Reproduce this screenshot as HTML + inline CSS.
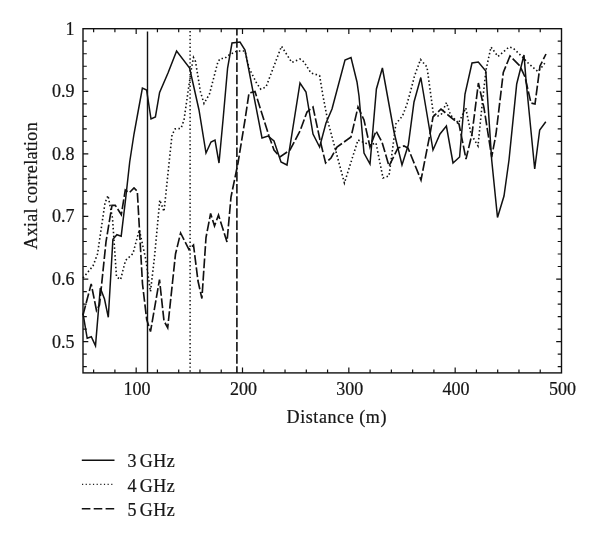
<!DOCTYPE html>
<html lang="en">
<head>
<meta charset="utf-8">
<title>Axial correlation versus distance</title>
<style>
html,body{margin:0;padding:0;background:#fff;}
body{width:600px;height:539px;overflow:hidden;}
svg{display:block;}
text{font-family:"Liberation Serif","DejaVu Serif",serif;font-size:18px;fill:#161616;stroke:#161616;stroke-width:0.22px;}
.t{font-size:18px;}
</style>
</head>
<body>
<svg width="600" height="539" viewBox="0 0 600 539">
<rect x="0" y="0" width="600" height="539" fill="#ffffff"/>
<g fill="none" stroke="#111" stroke-linejoin="miter" stroke-linecap="butt">
<rect x="83.0" y="28.7" width="478.5" height="344.2" stroke-width="1.4"/>
<path d="M93.63 372.90v-3.5M93.63 28.70v3.5M114.90 372.90v-3.5M114.90 28.70v3.5M136.17 372.90v-5.3M136.17 28.70v5.3M157.43 372.90v-3.5M157.43 28.70v3.5M178.70 372.90v-3.5M178.70 28.70v3.5M199.97 372.90v-3.5M199.97 28.70v3.5M221.23 372.90v-3.5M221.23 28.70v3.5M242.50 372.90v-5.3M242.50 28.70v5.3M263.77 372.90v-3.5M263.77 28.70v3.5M285.03 372.90v-3.5M285.03 28.70v3.5M306.30 372.90v-3.5M306.30 28.70v3.5M327.57 372.90v-3.5M327.57 28.70v3.5M348.83 372.90v-5.3M348.83 28.70v5.3M370.10 372.90v-3.5M370.10 28.70v3.5M391.37 372.90v-3.5M391.37 28.70v3.5M412.63 372.90v-3.5M412.63 28.70v3.5M433.90 372.90v-3.5M433.90 28.70v3.5M455.17 372.90v-5.3M455.17 28.70v5.3M476.43 372.90v-3.5M476.43 28.70v3.5M497.70 372.90v-3.5M497.70 28.70v3.5M518.97 372.90v-3.5M518.97 28.70v3.5M540.23 372.90v-3.5M540.23 28.70v3.5M83.00 366.64h3.8M561.50 366.64h-3.8M83.00 354.13h3.8M561.50 354.13h-3.8M83.00 341.61h5.3M561.50 341.61h-5.3M83.00 329.09h3.8M561.50 329.09h-3.8M83.00 316.58h3.8M561.50 316.58h-3.8M83.00 304.06h3.8M561.50 304.06h-3.8M83.00 291.54h3.8M561.50 291.54h-3.8M83.00 279.03h5.3M561.50 279.03h-5.3M83.00 266.51h3.8M561.50 266.51h-3.8M83.00 253.99h3.8M561.50 253.99h-3.8M83.00 241.48h3.8M561.50 241.48h-3.8M83.00 228.96h3.8M561.50 228.96h-3.8M83.00 216.45h5.3M561.50 216.45h-5.3M83.00 203.93h3.8M561.50 203.93h-3.8M83.00 191.41h3.8M561.50 191.41h-3.8M83.00 178.90h3.8M561.50 178.90h-3.8M83.00 166.38h3.8M561.50 166.38h-3.8M83.00 153.86h5.3M561.50 153.86h-5.3M83.00 141.35h3.8M561.50 141.35h-3.8M83.00 128.83h3.8M561.50 128.83h-3.8M83.00 116.31h3.8M561.50 116.31h-3.8M83.00 103.80h3.8M561.50 103.80h-3.8M83.00 91.28h5.3M561.50 91.28h-5.3M83.00 78.77h3.8M561.50 78.77h-3.8M83.00 66.25h3.8M561.50 66.25h-3.8M83.00 53.73h3.8M561.50 53.73h-3.8M83.00 41.22h3.8M561.50 41.22h-3.8" stroke-width="1.2"/>
<line x1="147.5" y1="31.5" x2="147.5" y2="372.9" stroke-width="1.4"/>
<line x1="190.1" y1="31" x2="190.1" y2="372.9" stroke-width="1.45" stroke-dasharray="1.4 2.5"/>
<line x1="236.9" y1="372.9" x2="236.9" y2="28.7" stroke-width="1.6" stroke-dasharray="9.55 2.6" stroke-dashoffset="2.9"/>
<polyline points="83.0,313.5 87.2,338.3 91.3,336.8 95.5,345.8 100.3,288.0 104.5,299.0 108.3,317.3 112.9,239.3 116.9,234.7 121.2,236.2 125.5,200.0 129.7,162.0 134.0,134.0 138.2,111.0 142.4,88.0 146.6,90.0 151.0,119.0 155.4,117.0 159.6,92.4 168.0,73.0 176.6,51.0 189.6,68.0 199.0,110.0 206.0,153.0 211.0,142.0 215.0,140.0 219.0,163.0 223.2,118.0 227.6,68.0 232.0,43.0 240.0,42.0 245.0,50.0 262.0,138.0 268.0,136.0 274.0,141.0 281.0,162.0 287.0,165.0 300.0,83.0 306.0,92.0 313.0,134.0 319.6,147.0 326.0,123.0 332.0,109.0 345.0,60.0 351.0,57.6 357.0,82.0 359.0,96.0 364.0,153.0 370.0,164.0 376.4,89.0 382.4,68.0 394.0,132.0 402.0,165.0 408.3,145.0 414.0,102.0 420.8,77.5 433.0,150.0 440.0,134.0 446.4,126.0 453.0,163.0 459.6,157.0 465.0,94.0 472.0,63.0 478.3,62.0 485.8,71.0 491.7,160.0 497.5,217.5 504.0,196.0 509.0,160.0 516.7,84.0 524.0,55.0 526.0,80.0 534.7,169.0 539.7,130.0 545.8,121.7" stroke-width="1.5"/>
<polyline points="83.0,278.0 93.0,266.0 97.5,254.0 105.0,203.0 108.0,195.5 112.5,218.0 116.5,277.0 120.6,279.5 125.5,260.5 133.0,253.5 139.3,229.7 145.7,259.0 150.5,291.5 154.5,257.0 159.8,200.0 164.0,211.5 172.0,135.0 175.0,129.0 181.0,128.4 184.0,120.0 188.0,92.0 191.5,68.0 193.5,57.5 195.5,61.5 200.5,92.0 204.0,103.5 209.5,94.0 218.0,61.5 220.5,58.5 224.5,58.5 229.0,55.0 237.0,51.0 245.0,51.0 249.0,68.0 256.7,83.3 260.8,89.2 266.0,87.0 281.5,46.2 291.8,62.5 300.0,59.0 304.0,62.0 311.0,73.0 319.6,75.6 323.0,96.0 328.0,122.0 344.4,183.0 358.0,140.0 370.0,145.0 376.0,143.0 383.0,178.0 389.0,176.0 393.5,142.0 395.8,124.0 399.5,119.5 402.5,116.0 407.0,104.0 410.5,91.5 414.5,76.0 420.5,59.5 427.0,67.0 433.5,115.0 438.0,116.0 441.5,114.0 446.5,102.5 450.5,115.0 458.5,123.0 465.8,108.0 471.0,134.0 478.0,146.0 482.0,106.0 486.0,70.0 491.0,47.0 498.0,56.5 509.0,47.0 513.0,48.0 523.0,57.5 527.5,62.5 538.0,71.7 545.0,63.0" stroke-width="1.6" stroke-dasharray="1.5 2.4"/>
<polyline points="83.0,315.0 91.2,284.0 96.5,310.5 99.5,305.0 106.0,241.9 112.0,205.3 115.3,205.3 121.3,214.7 125.3,190.0 129.3,192.7 134.0,188.0 137.3,191.3 142.5,284.0 146.7,319.5 150.5,331.5 159.5,279.7 164.0,321.0 167.7,327.7 175.5,254.0 180.6,233.0 189.0,249.5 193.5,245.0 198.0,281.0 201.9,298.5 206.0,237.5 210.6,213.5 214.5,226.0 218.5,215.0 227.0,242.0 231.0,197.0 238.0,163.0 245.0,120.0 249.0,93.0 255.0,91.6 269.0,136.0 274.0,150.0 280.0,157.0 290.0,150.0 300.0,131.0 307.0,112.0 313.0,107.0 320.0,140.0 325.6,163.0 331.0,158.0 337.0,147.0 351.0,137.0 358.0,107.0 364.0,120.0 370.0,147.0 376.0,131.0 382.0,142.0 389.0,166.0 398.0,148.0 404.0,146.0 408.0,148.0 421.0,180.0 430.0,134.0 433.0,117.0 441.0,109.0 448.0,115.0 459.0,124.0 466.0,159.0 472.0,134.0 478.4,83.0 484.0,108.0 491.7,157.0 496.0,134.0 503.3,72.5 510.0,56.0 520.0,66.0 525.0,77.0 531.0,103.0 535.0,104.0 540.0,66.0 546.0,54.0" stroke-width="1.65" stroke-dasharray="9.8 2.6"/>
<line x1="81.8" y1="460.3" x2="114.5" y2="460.3" stroke-width="1.6"/>
<line x1="82" y1="484.4" x2="113" y2="484.4" stroke-width="1.25" stroke-dasharray="1.2 2.45" stroke="#222"/>
<line x1="81.8" y1="508.8" x2="114.4" y2="508.8" stroke-width="1.55" stroke-dasharray="8.6 3.3"/>
</g>
<g><text x="74.5" y="34.6" text-anchor="end">1</text><text x="74.5" y="97.2" text-anchor="end">0.9</text><text x="74.5" y="159.8" text-anchor="end">0.8</text><text x="74.5" y="222.3" text-anchor="end">0.7</text><text x="74.5" y="284.9" text-anchor="end">0.6</text><text x="74.5" y="347.5" text-anchor="end">0.5</text></g>
<g><text x="137.1" y="394.5" text-anchor="middle">100</text><text x="243.4" y="394.5" text-anchor="middle">200</text><text x="349.7" y="394.5" text-anchor="middle">300</text><text x="456.1" y="394.5" text-anchor="middle">400</text><text x="562.4" y="394.5" text-anchor="middle">500</text></g>
<text class="t" x="286.6" y="423.3" letter-spacing="0.58">Distance (m)</text>
<text class="t" transform="translate(36.6,249.6) rotate(-90)" letter-spacing="0.3">Axial correlation</text>
<text y="467"><tspan x="127.4">3</tspan> <tspan class="t" x="139.8" letter-spacing="0.5">GHz</tspan></text>
<text y="491.5"><tspan x="127.4">4</tspan> <tspan class="t" x="139.8" letter-spacing="0.5">GHz</tspan></text>
<text y="515.8"><tspan x="127.4">5</tspan> <tspan class="t" x="139.8" letter-spacing="0.5">GHz</tspan></text>
</svg>
</body>
</html>
